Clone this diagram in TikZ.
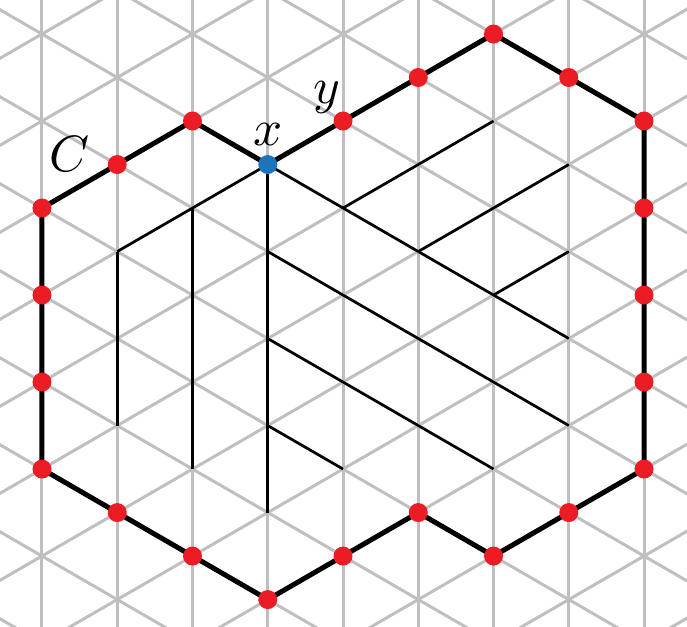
\documentclass[tikz,border=0pt]{standalone}
\usepackage{graphicx}
\definecolor{dotred}{RGB}{236,28,36}
\definecolor{dotblue}{RGB}{28,117,188}
\begin{document}
\begin{tikzpicture}[x=75.25pt,y=-43.5pt,
  gridline/.style={draw=gray!50,line width=3pt},
  hexline/.style={draw=black,line width=5pt,line join=round},
  inner/.style={draw=black,line width=2.6pt},
  reddot/.style={circle,fill=dotred,inner sep=0pt,minimum size=19pt},
  bluedot/.style={circle,fill=dotblue,inner sep=0pt,minimum size=19pt}]
\useasboundingbox (-0.558,-6.782) rectangle (8.571,7.609);
\clip (-0.558,-6.782) rectangle (8.571,7.609);
\foreach \i in {-1,...,9} \draw[gridline] (\i,-8) -- (\i,9);
\foreach \c in {-24,-22,...,24} {
  \draw[gridline] (-2,\c-2) -- (10,\c+10);
  \draw[gridline] (-2,\c+2) -- (10,\c-10);
}
\foreach \i in {0,...,8} \foreach \m in {-7,...,8} {
  \pgfmathtruncatemacro\mm{\m+10}
  \coordinate (p\i-\mm) at (\i,\m);
}
\draw[inner] (p1-9) -- (p1-13);
\draw[inner] (p2-8) -- (p2-14);
\draw[inner] (p3-7) -- (p3-15);
\draw[inner] (p3-7) -- (p1-9);
\draw[inner] (p3-7) -- (p7-11);
\draw[inner] (p3-9) -- (p7-13);
\draw[inner] (p3-11) -- (p6-14);
\draw[inner] (p3-13) -- (p4-14);
\draw[inner] (p4-8) -- (p6-6);
\draw[inner] (p5-9) -- (p7-7);
\draw[inner] (p6-10) -- (p7-9);
\draw[hexline] (p0-8) -- (p1-7) -- (p2-6) -- (p3-7) -- (p4-6) -- (p5-5) -- (p6-4) -- (p7-5) -- (p8-6)
  -- (p8-8) -- (p8-10) -- (p8-12) -- (p8-14) -- (p7-15) -- (p6-16) -- (p5-15) -- (p4-16) -- (p3-17)
  -- (p2-16) -- (p1-15) -- (p0-14) -- (p0-12) -- (p0-10) -- cycle;
\foreach \a in {p0-8,p1-7,p2-6,p4-6,p5-5,p6-4,p7-5,p8-6,p8-8,p8-10,p8-12,p8-14,p7-15,p6-16,p5-15,p4-16,p3-17,p2-16,p1-15,p0-14,p0-12,p0-10}
  \node[reddot] (d\a) at (\a) {};
\node[bluedot] (x) at (p3-7) {};
\node (lC) at (0.36,-3.25) {\scalebox{5.1}{$C$}};
\node (lx) at (3.0,-3.7) {\scalebox{5.1}{$x$}};
\node (ly) at (3.78,-4.55) {\scalebox{5.1}{$y$}};
\end{tikzpicture}
\end{document}
